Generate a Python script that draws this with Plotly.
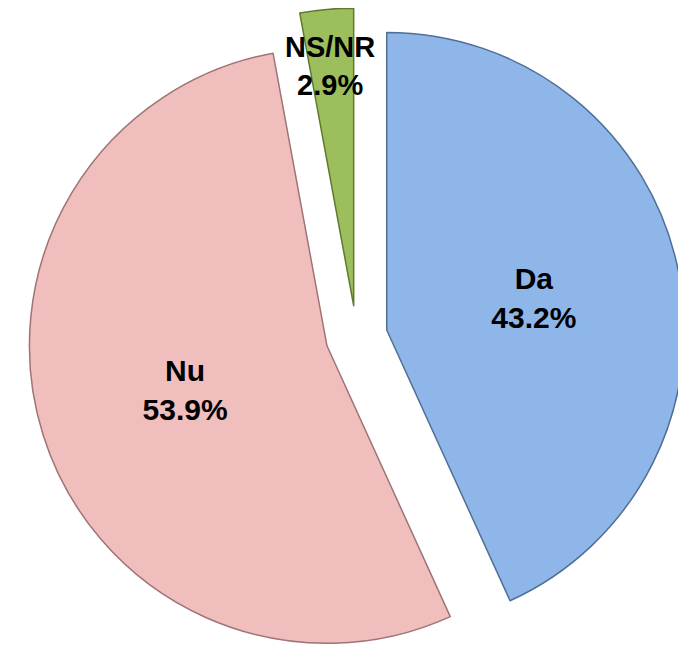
import plotly.graph_objects as go

labels = ["Da", "Nu", "NS/NR"]
values = [43.2, 53.9, 2.9]
colors = ["#8EB6E8", "#F1BEBE", "#9DBE5C"]
edge_colors = ["#4F6F99", "#9E7474", "#5E7A2E"]

fig = go.Figure(go.Pie(
    labels=labels,
    values=values,
    sort=False,
    direction="clockwise",
    rotation=0,
    pull=[0.104, 0.104, 0.104],
    domain=dict(x=[0.016, 1], y=[0, 1]),
    marker=dict(colors=colors, line=dict(color=edge_colors, width=1.5)),
    texttemplate="<b>%{label}<br>%{value:.1f}%</b>",
    textposition=["inside", "inside", "none"],
    insidetextorientation="horizontal",
    textfont=dict(family="Liberation Sans, Arial, sans-serif", size=30, color="black"),
    showlegend=False,
    hoverinfo="label+percent",
))

fig.add_annotation(
    x=0.469, y=0.912, xref="paper", yref="paper",
    text=f"<b>{labels[2]}<br>{values[2]:.1f}%</b>",
    showarrow=False,
    font=dict(family="Liberation Sans, Arial, sans-serif", size=29, color="black"),
    xanchor="center", yanchor="middle",
)

fig.update_layout(
    width=686,
    height=657,
    margin=dict(l=0, r=0, t=0, b=0),
    paper_bgcolor="white",
    plot_bgcolor="white",
    uniformtext=dict(minsize=30, mode="show"),
)

fig.write_html("out.html")
